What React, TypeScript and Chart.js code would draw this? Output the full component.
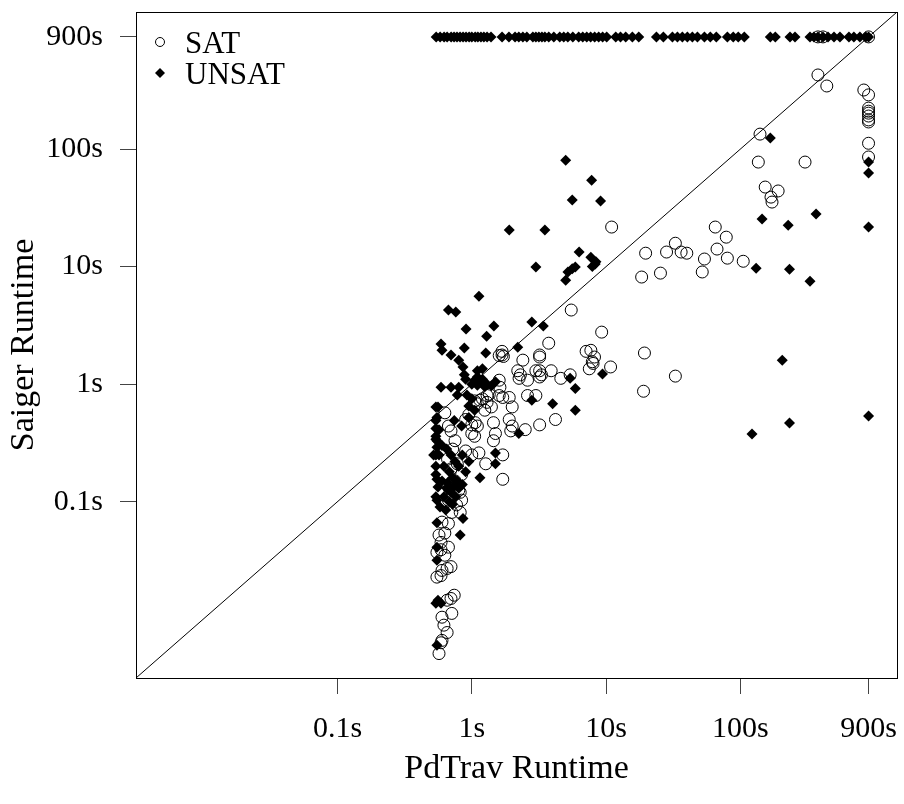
import React, { useEffect, useRef } from "react";
import { Chart, registerables } from "chart.js";

Chart.register(...registerables);

// Axis limits (seconds), same range on both axes
const axisMin = 0.00316;
const axisMax = 1466;

const tickValues = [0.1, 1, 10, 100, 900];
const tickLabels = ["0.1s", "1s", "10s", "100s", "900s"];

const xTitle = "PdTrav Runtime";
const yTitle = "Saiger Runtime";
const seriesNames = ["SAT", "UNSAT"];

// [PdTrav runtime, Saiger runtime] in seconds
const satPoints: [number, number][] = [
  [830, 318], [900, 289], [900, 223], [900, 210], [900, 202], [900, 191], [900, 177], [900, 170], [900, 112], [900, 85.6],
  [378, 427], [440, 344], [378, 900], [412, 900], [900, 900],
  [140, 134], [136, 77.5], [303, 77.5], [153, 47.5], [191, 44], [169, 39], [172, 35.4],
  [11.0, 21.7], [19.7, 13.0], [18.4, 8.15], [25.4, 8.8], [28.2, 13.3], [32.8, 15.8], [36.2, 13.3], [39.9, 13.0],
  [54, 11.6], [52, 9.0], [65, 21.7], [78.5, 17.8], [67, 14.1], [80, 11.8], [105, 11.1],
  [9.27, 2.77], [19.3, 1.84], [10.8, 1.40], [32.8, 1.17], [19, 0.87],
  [5.5, 4.27], [3.74, 2.23], [3.2, 1.77], [3.2, 1.7], [7.7, 1.94], [7.9, 1.55], [8.0, 1.5], [7.1, 1.9], [7.5, 1.35], [8.2, 1.7],
  [1.68, 1.9], [1.68, 1.77], [1.6, 1.75], [1.72, 1.72], [2.4, 1.6], [2.2, 1.3], [2.3, 1.2], [2.25, 1.12], [3.0, 1.3],
  [3.3, 1.2], [2.6, 1.08], [3.9, 1.3], [4.6, 1.12], [5.4, 1.2], [3.2, 1.3], [3.2, 1.15],
  [1.6, 0.8], [1.7, 0.77], [1.3, 0.8], [1.35, 0.82], [1.6, 1.08], [1.62, 0.94], [1.15, 0.73], [1.3, 0.7], [1.4, 0.64],
  [1.9, 0.77], [2.0, 0.64], [2.6, 0.8], [3.0, 0.8],
  [1.9, 0.5], [2.0, 0.44], [1.95, 0.4], [2.5, 0.41], [3.2, 0.45], [4.2, 0.5], [1.06, 0.47], [1.1, 0.44], [1.45, 0.47],
  [1.5, 0.38], [1.45, 0.33], [0.9, 0.27], [1.0, 0.25], [1.13, 0.26], [1.7, 0.25], [1.27, 0.21], [1.7, 0.155], [0.67, 0.44], [0.63, 0.57],
  [1.05, 0.72], [1.1, 0.68], [1.2, 0.75], [1.25, 0.6], [1.0, 0.38], [1.05, 0.36], [0.95, 0.55], [0.9, 0.5], [1.0, 0.45],
  [0.7, 0.4], [0.75, 0.33], [0.72, 0.28], [0.66, 0.23], [0.7, 0.19], [0.75, 0.15], [0.68, 0.13],
  [0.78, 0.21], [0.84, 0.17], [0.82, 0.12],
  [0.80, 0.125], [0.84, 0.103], [0.77, 0.094], [0.82, 0.081], [0.67, 0.103], [0.71, 0.081],
  [0.60, 0.067], [0.67, 0.065], [0.57, 0.052], [0.63, 0.054], [0.59, 0.045], [0.67, 0.041], [0.59, 0.039],
  [0.55, 0.037], [0.63, 0.035], [0.60, 0.026], [0.655, 0.027], [0.70, 0.028], [0.55, 0.0228], [0.59, 0.0235],
  [0.74, 0.016], [0.70, 0.015], [0.655, 0.0145], [0.71, 0.0112], [0.60, 0.0104], [0.62, 0.0089], [0.655, 0.0077],
  [0.60, 0.0066], [0.59, 0.0063], [0.57, 0.0051],
];

const unsatPoints: [number, number][] = [
  // Saiger timeouts (900 s)
  [0.543, 900], [0.581, 900], [0.622, 900], [0.655, 900], [0.702, 900], [0.738, 900], [0.776, 900], [0.818, 900],
  [0.861, 900], [0.906, 900], [0.955, 900], [1.0, 900], [1.06, 900], [1.11, 900], [1.17, 900], [1.23, 900],
  [1.30, 900], [1.39, 900], [1.68, 900], [1.89, 900], [2.10, 900], [2.24, 900], [2.40, 900], [2.57, 900],
  [2.85, 900], [3.0, 900], [3.16, 900], [3.33, 900], [3.5, 900], [3.74, 900], [4.08, 900], [4.52, 900],
  [4.84, 900], [5.19, 900], [5.65, 900], [6.25, 900], [6.7, 900], [7.18, 900], [7.67, 900], [8.22, 900],
  [8.81, 900], [9.42, 900], [10.1, 900], [11.8, 900], [12.8, 900], [14.0, 900], [15.7, 900], [17.5, 900],
  [23.7, 900], [26.7, 900], [31.2, 900], [34.0, 900], [37.0, 900], [40.3, 900], [43.9, 900], [47.9, 900],
  [54.0, 900], [59.7, 900], [66.2, 900], [80.0, 900], [88.5, 900], [96.4, 900], [107, 900],
  [167, 900], [182, 900], [234, 900], [255, 900], [330, 900], [353, 900], [378, 900], [412, 900],
  [449, 900], [498, 900], [551, 900], [643, 900], [700, 900], [776, 900], [859, 900], [900, 900],
  // upper right
  [167, 124], [900, 77.5], [900, 62.5], [900, 21.7], [366, 28], [145, 25.4], [227, 22.5], [131, 9.7], [232, 9.5],
  [330, 7.5], [205, 1.6], [900, 0.535], [232, 0.466], [122, 0.376],
  // middle
  [5.0, 80.5], [7.8, 54.4], [5.6, 36.8], [9.1, 36.1], [1.9, 20.5], [3.5, 20.5], [6.3, 13.3], [7.7, 12], [8.4, 11],
  [7.9, 10], [8.3, 10.5], [5.2, 9.0], [5.6, 9.6], [5.9, 9.9], [3.0, 9.9], [5.0, 7.67],
  [1.13, 5.6], [0.67, 4.27], [0.76, 4.1], [0.906, 2.94], [1.46, 3.12], [1.29, 2.56], [2.8, 3.37], [3.41, 3.12],
  [0.59, 2.19], [0.6, 1.94], [0.88, 2.03], [0.7, 1.77], [0.8, 1.6], [0.86, 1.4], [1.27, 1.84], [2.2, 2.06],
  [0.59, 0.94], [0.70, 0.94], [0.80, 0.94], [0.78, 0.81], [0.92, 0.81],
  [1.0, 1.0], [1.05, 1.08], [1.1, 0.98], [1.15, 1.05], [1.2, 1.1], [1.3, 1.0], [1.4, 0.97], [1.5, 1.05], [1.1, 1.15],
  [1.25, 0.95], [1.0, 0.75], [1.05, 0.6], [0.95, 0.65], [1.1, 1.3], [1.2, 1.35], [0.9, 1.1], [0.88, 1.2],
  [0.56, 0.64], [0.55, 0.52], [0.57, 0.41], [0.55, 0.33], [0.57, 0.25], [0.74, 0.49], [0.84, 0.44], [0.95, 0.52],
  [2.8, 0.73], [4.0, 0.68], [5.9, 0.92], [5.4, 1.12], [5.9, 0.60], [9.4, 1.22], [2.24, 0.38], [1.5, 0.26],
  [1.15, 0.16], [1.5, 0.21], [0.52, 0.25],
  // left column
  [0.54, 0.64], [0.54, 0.49], [0.54, 0.42], [0.54, 0.36], [0.54, 0.34], [0.55, 0.29], [0.54, 0.25], [0.54, 0.2],
  [0.54, 0.17], [0.55, 0.155], [0.56, 0.133], [0.54, 0.11], [0.55, 0.103],
  // lower cluster
  [0.6, 0.3], [0.65, 0.28], [0.7, 0.25], [0.75, 0.22], [0.8, 0.2], [0.62, 0.2], [0.68, 0.18], [0.72, 0.16],
  [0.78, 0.15], [0.85, 0.14], [0.6, 0.15], [0.65, 0.13], [0.7, 0.12], [0.76, 0.11], [0.62, 0.11], [0.68, 0.1],
  [0.58, 0.09], [0.64, 0.085], [0.72, 0.095], [0.8, 0.13], [0.9, 0.18], [0.95, 0.22], [0.85, 0.25], [0.66, 0.145],
  [0.74, 0.135],
  [0.82, 0.052], [0.86, 0.072], [0.55, 0.066], [0.55, 0.041], [0.55, 0.0318], [0.56, 0.0145], [0.54, 0.0137],
  [0.59, 0.0137], [0.55, 0.006],
];

const diagonal = [axisMin, axisMax];

const FONT = '"Liberation Serif", "DejaVu Serif", serif';

export default function App() {
  const canvasRef = useRef<HTMLCanvasElement | null>(null);

  useEffect(() => {
    document.body.style.margin = "0";
    document.body.style.overflow = "hidden";
    const canvas = canvasRef.current;
    if (!canvas) return;

    const boxPlugin = {
      id: "boxAndLegend",
      afterDraw(chart: any) {
        const { ctx, chartArea } = chart;
        ctx.save();
        ctx.strokeStyle = "#000";
        ctx.lineWidth = 1;
        ctx.strokeRect(
          Math.round(chartArea.left) + 0.5,
          Math.round(chartArea.top) + 0.5,
          Math.round(chartArea.right - chartArea.left),
          Math.round(chartArea.bottom - chartArea.top)
        );
        // legend
        const lx = chartArea.left + 24;
        const ly1 = chartArea.top + 30;
        const ly2 = chartArea.top + 61;
        ctx.beginPath();
        ctx.arc(lx, ly1, 4.5, 0, Math.PI * 2);
        ctx.stroke();
        ctx.beginPath();
        ctx.moveTo(lx - 5, ly2);
        ctx.lineTo(lx, ly2 - 5);
        ctx.lineTo(lx + 5, ly2);
        ctx.lineTo(lx, ly2 + 5);
        ctx.closePath();
        ctx.fillStyle = "#000";
        ctx.fill();
        ctx.font = `31px ${FONT}`;
        ctx.textAlign = "left";
        ctx.textBaseline = "alphabetic";
        ctx.fillText(seriesNames[0], lx + 25, ly1 + 11);
        ctx.fillText(seriesNames[1], lx + 25, ly2 + 11);
        ctx.restore();
      },
    };

    const setTicks = (scale: any) => {
      scale.ticks = tickValues.map((v) => ({ value: v }));
    };
    const noPad = (scale: any) => {
      scale.paddingTop = 0;
      scale.paddingBottom = 0;
      scale.paddingLeft = 0;
      scale.paddingRight = 0;
    };

    const chart = new Chart(canvas, {
      type: "scatter",
      data: {
        datasets: [
          {
            type: "line",
            label: "diagonal",
            data: diagonal.map((v) => ({ x: v, y: v })),
            borderColor: "#000",
            borderWidth: 1,
            pointRadius: 0,
            fill: false,
            order: 0,
          } as any,
          {
            label: seriesNames[1],
            data: unsatPoints.map(([x, y]) => ({ x, y })),
            pointStyle: "rectRot",
            pointRadius: 5.5,
            backgroundColor: "#000",
            borderColor: "#000",
            borderWidth: 0,
            order: 1,
          },
          {
            label: seriesNames[0],
            data: satPoints.map(([x, y]) => ({ x, y })),
            pointStyle: "circle",
            pointRadius: 6,
            backgroundColor: "rgba(0,0,0,0)",
            borderColor: "#000",
            borderWidth: 1,
            order: 2,
          },
        ],
      },
      options: {
        animation: false,
        responsive: false,
        devicePixelRatio: 1,
        layout: { padding: { left: 0, right: 5, top: 12, bottom: 0 } },
        plugins: {
          legend: { display: false },
          tooltip: { enabled: false },
        },
        scales: {
          x: {
            type: "logarithmic",
            min: axisMin,
            max: axisMax,
            afterBuildTicks: setTicks,
            afterFit: (scale: any) => {
              scale.height = 126;
              noPad(scale);
            },
            grid: {
              display: true,
              drawOnChartArea: false,
              drawTicks: true,
              tickLength: 16,
              tickColor: "#444",
              color: "#444",
            },
            border: { display: true, color: "#000" },
            ticks: {
              autoSkip: false,
              maxRotation: 0,
              padding: 17,
              color: "#000",
              font: { family: FONT, size: 30 },
              callback: (_v: any, i: number) => tickLabels[i],
            },
            title: {
              display: true,
              text: xTitle,
              color: "#000",
              font: { family: FONT, size: 34 },
              padding: { top: 0, bottom: 15 },
            },
          },
          y: {
            type: "logarithmic",
            min: axisMin,
            max: axisMax,
            afterBuildTicks: setTicks,
            afterFit: (scale: any) => {
              scale.width = 136;
              noPad(scale);
            },
            grid: {
              display: true,
              drawOnChartArea: false,
              drawTicks: true,
              tickLength: 16,
              tickColor: "#444",
              color: "#444",
            },
            border: { display: true, color: "#000" },
            ticks: {
              autoSkip: false,
              padding: 17,
              color: "#000",
              font: { family: FONT, size: 30 },
              callback: (_v: any, i: number) => tickLabels[i],
            },
            title: {
              display: true,
              text: yTitle,
              color: "#000",
              font: { family: FONT, size: 34 },
              padding: { top: 4, bottom: 0 },
            },
          },
        },
      },
      plugins: [boxPlugin],
    });

    return () => chart.destroy();
  }, []);

  return (
    <div style={{ width: 904, height: 804 }}>
      <canvas ref={canvasRef} width={904} height={804} style={{ display: "block" }} />
    </div>
  );
}
